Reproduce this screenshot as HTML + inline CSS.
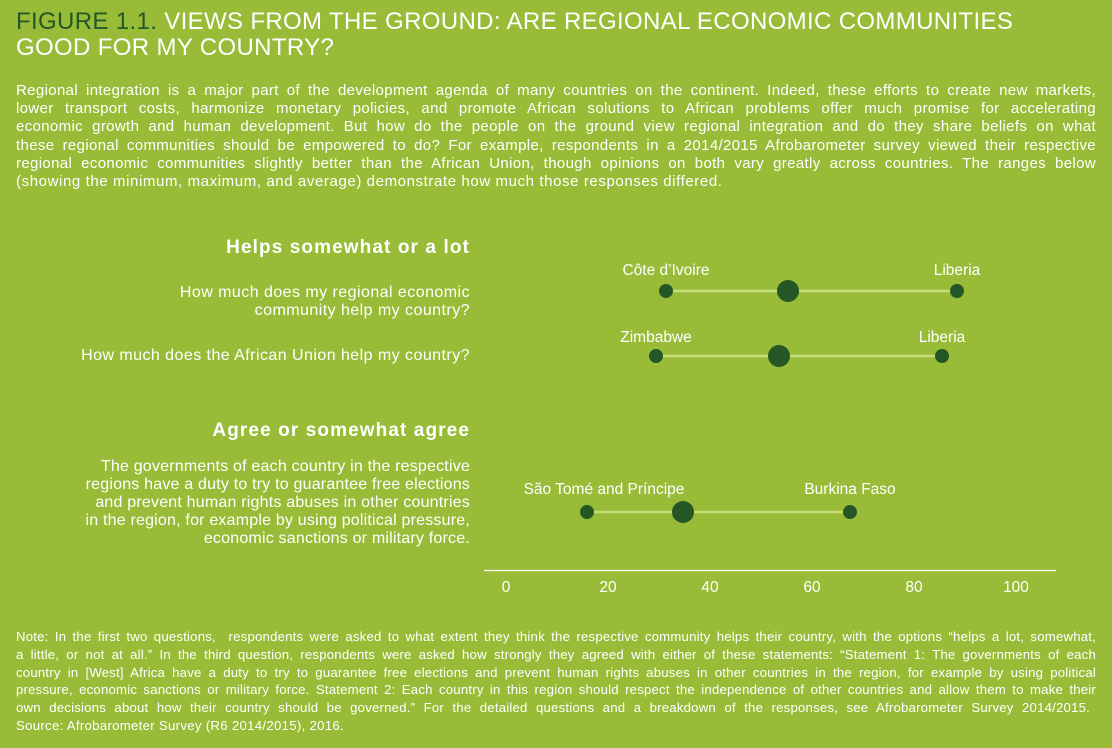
<!DOCTYPE html>
<html><head><meta charset="utf-8"><style>
body{margin:0;width:1112px;height:748px;background:#99bc38;font-family:"Liberation Sans",sans-serif;color:#fff;position:relative;overflow:hidden}
.a{position:absolute}
h1{position:absolute;left:16px;top:9px;margin:0;font-size:24px;line-height:26px;font-weight:normal;letter-spacing:0.35px;white-space:nowrap}
h1 b{color:#245626;font-weight:normal}
.j{text-align:justify;text-align-last:justify;white-space:nowrap}
.l{white-space:nowrap}
.intro{left:16px;top:82px;width:1080px;font-size:15px;line-height:18.2px;letter-spacing:0.35px}
.q{font-size:16px;line-height:18px;text-align:right;right:642px;letter-spacing:0.45px;white-space:nowrap}
.hd{font-size:19px;font-weight:bold;right:642px;letter-spacing:1.1px;white-space:nowrap}
.note{left:16px;top:628px;width:1080px;font-size:13.2px;line-height:17.8px;letter-spacing:0.2px}
</style></head><body>
<h1><b>FIGURE 1.1.</b> VIEWS FROM THE GROUND: ARE REGIONAL ECONOMIC COMMUNITIES<br>GOOD FOR MY COUNTRY?</h1>
<div class="a intro">
<div class="j">Regional integration is a major part of the development agenda of many countries on the continent. Indeed, these efforts to create new markets,</div>
<div class="j">lower transport costs, harmonize monetary policies, and promote African solutions to African problems offer much promise for accelerating</div>
<div class="j">economic growth and human development. But how do the people on the ground view regional integration and do they share beliefs on what</div>
<div class="j">these regional communities should be empowered to do? For example, respondents in a 2014/2015 Afrobarometer survey viewed their respective</div>
<div class="j">regional economic communities slightly better than the African Union, though opinions on both vary greatly across countries. The ranges below</div>
<div class="l" style="letter-spacing:0.6px">(showing the minimum, maximum, and average) demonstrate how much those responses differed.</div>
</div>
<div class="a hd" style="top:237px">Helps somewhat or a lot</div>
<div class="a q" style="top:284px">How much does my regional economic<br>community help my country?</div>
<div class="a q" style="top:347px">How much does the African Union help my country?</div>
<div class="a hd" style="top:420px">Agree or somewhat agree</div>
<div class="a q" style="top:458px;letter-spacing:0.2px">The governments of each country in the respective<br>regions have a duty to try to guarantee free elections<br>and prevent human rights abuses in other countries<br>in the region, for example by using political pressure,<br>economic sanctions or military force.</div>
<svg class="a" style="left:0;top:0" width="1112" height="748">
<g font-family="Liberation Sans, sans-serif" font-size="15.5" fill="#fff" text-anchor="middle">
<line x1="666" y1="291" x2="957" y2="291" stroke="#c8dc78" stroke-width="2.5"/>
<circle cx="666" cy="291" r="7" fill="#245626"/><circle cx="788" cy="291" r="11" fill="#245626"/><circle cx="957" cy="291" r="7" fill="#245626"/>
<text x="666" y="275">Côte d’Ivoire</text><text x="957" y="275">Liberia</text>
<line x1="656" y1="356" x2="942" y2="356" stroke="#c8dc78" stroke-width="2.5"/>
<circle cx="656" cy="356" r="7" fill="#245626"/><circle cx="779" cy="356" r="11" fill="#245626"/><circle cx="942" cy="356" r="7" fill="#245626"/>
<text x="656" y="342">Zimbabwe</text><text x="942" y="342">Liberia</text>
<line x1="587" y1="512" x2="850" y2="512" stroke="#c8dc78" stroke-width="2.5"/>
<circle cx="587" cy="512" r="7" fill="#245626"/><circle cx="683" cy="512" r="11" fill="#245626"/><circle cx="850" cy="512" r="7" fill="#245626"/>
<text x="604" y="494">São Tomé and Príncipe</text><text x="850" y="494">Burkina Faso</text>
<line x1="484" y1="570.5" x2="1056" y2="570.5" stroke="#fff" stroke-width="1.2"/>
<text x="506" y="592">0</text><text x="608" y="592">20</text><text x="710" y="592">40</text><text x="812" y="592">60</text><text x="914" y="592">80</text><text x="1016" y="592">100</text>
</g></svg>
<div class="a note">
<div class="j">Note: In the first two questions,&nbsp; respondents were asked to what extent they think the respective community helps their country, with the options “helps a lot, somewhat,</div>
<div class="j">a little, or not at all.” In the third question, respondents were asked how strongly they agreed with either of these statements: “Statement 1: The governments of each</div>
<div class="j">country in [West] Africa have a duty to try to guarantee free elections and prevent human rights abuses in other countries in the region, for example by using political</div>
<div class="j">pressure, economic sanctions or military force. Statement 2: Each country in this region should respect the independence of other countries and allow them to make their</div>
<div class="j" style="width:1074px">own decisions about how their country should be governed.” For the detailed questions and a breakdown of the responses, see Afrobarometer Survey 2014/2015.</div>
<div class="l" style="letter-spacing:0.3px">Source: Afrobarometer Survey (R6 2014/2015), 2016.</div>
</div>
</body></html>
